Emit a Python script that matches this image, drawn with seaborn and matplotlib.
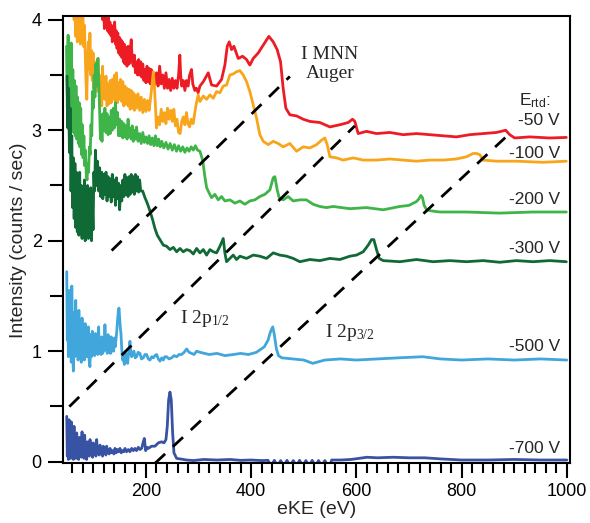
import numpy as np
import pandas as pd
import matplotlib
matplotlib.use("Agg")
import matplotlib.pyplot as plt
from matplotlib.ticker import MultipleLocator
import seaborn as sns

# ---------------------------------------------------------------------------
# Electron kinetic energy spectra of iodine at several retarding voltages
# ---------------------------------------------------------------------------
retard_labels = ["-50 V", "-100 V", "-200 V", "-300 V", "-500 V", "-700 V"]
trace_colors = ["#ed1c24", "#f9a51b", "#3eb449", "#0f6a36", "#41a6dc", "#3953a4"]

ke_50 = [50, 80, 100, 112, 116, 118, 119.5, 121, 122.5, 124, 125.5, 127, 128.5, 130, 131.5,
         133, 134.5, 136, 137.5, 139, 140.5, 142, 143.5, 145, 146.5, 148, 149.5, 151, 152.5,
         154, 155.5, 157, 158.5, 160, 162, 164, 166, 168, 170, 172, 174, 176, 178, 180, 182,
         184, 186, 188, 190, 192, 194, 196, 198, 200, 202, 204, 206, 208, 210, 212, 214,
         217, 220, 223, 226, 229, 232, 235, 238, 241, 244, 247, 250, 253, 256, 259, 262,
         264.4, 266, 268, 271, 274, 277, 280, 283, 286.6, 289, 292.9, 296, 299.2,
         302.6, 309, 318.4, 324.7, 334.2, 343.7, 350, 354.5, 358.3, 362.7, 367.2, 375.4,
         383.6, 391.2, 397.5, 403.9, 413.4, 422.9, 433.6, 441.9, 449.4, 455.8, 460.8, 465.9,
         473.5, 486.2, 498.8, 511.6, 530.6, 549.6, 568.6, 584.4, 592.6, 597, 603.4, 619.2,
         638.2, 663.5, 688.8, 714.2, 739.5, 764.8, 790.1, 815.4, 840.8, 866.1, 883.8,
         891.4, 900.9, 929.4, 967.4, 999]
int_50 = [4.6, 4.5, 4.3, 4.15, 4.06, 4.0, 4.1, 3.92, 4.05, 3.95, 4.08, 3.90, 4.02, 3.88, 3.98,
          3.86, 3.95, 3.80, 3.92, 3.85, 3.98, 3.78, 3.90, 3.74, 3.88, 3.70, 3.84, 3.68, 3.82,
          3.66, 3.80, 3.62, 3.78, 3.60, 3.75, 3.58, 3.76, 3.60, 3.72, 3.82, 3.62, 3.58, 3.68,
          3.52, 3.62, 3.50, 3.64, 3.50, 3.62, 3.48, 3.60, 3.45, 3.55, 3.43, 3.58, 3.44, 3.56,
          3.42, 3.55, 3.40, 3.50, 3.42, 3.52, 3.40, 3.58, 3.42, 3.50, 3.38, 3.52, 3.38,
          3.46, 3.36, 3.47, 3.38, 3.45, 3.38, 3.50, 3.68, 3.50, 3.40, 3.45, 3.36, 3.45,
          3.40, 3.50, 3.55, 3.42, 3.36, 3.38, 3.34,
          3.40, 3.44, 3.52, 3.41, 3.40, 3.46, 3.59, 3.76, 3.80, 3.73, 3.76, 3.65,
          3.67, 3.64, 3.59, 3.65, 3.70, 3.77, 3.85, 3.80, 3.73, 3.62, 3.38, 3.20,
          3.14, 3.13, 3.10, 3.08, 3.07, 3.03, 3.05, 3.07, 3.10, 3.08, 2.97, 2.99,
          2.97, 2.98, 2.96, 2.97, 2.96, 2.95, 2.94, 2.96, 2.97, 2.98, 3.00,
          2.96, 2.93, 2.94, 2.93, 2.935]

ke_100 = [50, 60, 62, 63.5, 65, 66.5, 68, 69.5, 71, 72.5, 74, 75.5, 77, 78.5, 80, 81.5, 83,
          84.5, 86, 87.5, 89, 90.5, 92, 93.5, 95, 96.5, 98, 99.5, 101, 102.5, 104, 105.5,
          107, 108.5, 110, 111.5, 113, 114.5, 116, 117.5, 119, 120.5, 122, 124, 126, 128,
          130, 132, 134, 136, 138, 140, 142, 144, 146, 148, 150, 152, 154, 156, 158, 160,
          162, 164, 166, 168, 170, 172, 174, 176, 178, 180, 182, 185, 188, 191, 194, 197,
          200, 203, 206, 209, 212, 214, 216, 218, 220, 223, 226, 229, 232, 235, 238, 241,
          244, 247, 250, 253, 256, 259, 262, 265, 268, 271, 274, 277, 280, 283, 286, 289.7,
          294.8, 299.2,
          302.6, 309, 315.3, 321.6, 327.9, 334.2, 340.6, 346.9, 353.2, 359.6, 365.9, 372.2,
          378.6, 384.9, 391.2, 397.5, 403.9, 410.2, 416.5, 422.9, 432.4, 441.9, 451.3,
          460.8, 473.5, 486.2, 498.8, 511.6, 524.3, 533.8, 540, 544.5, 549.6, 562.2, 574.9,
          593.9, 612.9, 638.2, 663.5, 688.8, 714.2, 739.5, 764.8, 790.1, 809.1, 821.8,
          828.1, 834.4, 840.8, 866.1, 904, 954.7, 999]
int_100 = [4.5, 4.3, 4.1, 4.0, 4.1, 3.85, 4.08, 3.80, 4.1, 3.95, 4.1, 3.78, 4.05, 3.90, 4.08,
           3.76, 3.95, 3.70, 3.45, 3.28, 3.62, 3.80, 3.55, 3.88, 3.50, 3.72, 3.45, 3.70,
           3.38, 3.62, 3.35, 3.58, 3.40, 3.65, 3.35, 3.50, 3.25, 3.45, 3.22, 3.58, 3.30,
           3.48, 3.28, 3.49, 3.22, 3.42, 3.24, 3.45, 3.25, 3.46, 3.28, 3.50, 3.26, 3.52,
           3.25, 3.43, 3.28, 3.46, 3.26, 3.44, 3.22, 3.40, 3.24, 3.38, 3.22, 3.37, 3.19,
           3.36, 3.20, 3.34, 3.18, 3.32, 3.20, 3.33, 3.18, 3.30, 3.16, 3.28, 3.17, 3.27,
           3.18, 3.30, 3.43, 3.53, 3.40, 3.22, 3.02, 3.12, 3.05, 3.19, 3.08, 3.16, 3.06,
           3.20, 3.10, 3.18, 3.08, 3.19, 3.04, 3.10, 2.98, 2.97, 3.08, 3.12, 3.05, 3.16,
           3.06, 3.03, 3.10, 3.06, 3.22, 3.32,
           3.26, 3.31, 3.28, 3.32, 3.29, 3.35, 3.34, 3.40, 3.41, 3.50, 3.51, 3.53,
           3.54, 3.50, 3.44, 3.35, 3.23, 3.11, 2.96, 2.90, 2.87, 2.90, 2.88,
           2.85, 2.88, 2.81, 2.85, 2.84, 2.87, 2.91, 2.93, 2.87, 2.76, 2.75, 2.73,
           2.75, 2.73, 2.73, 2.74, 2.73, 2.72, 2.73, 2.73, 2.74, 2.76, 2.79,
           2.79, 2.78, 2.73, 2.72, 2.72, 2.71, 2.72]

ke_200 = [49, 50.5, 52, 53.5, 55, 56.5, 58, 59.5, 61, 62.5, 64, 65.5, 67, 68.5, 70, 71.5, 73,
          74.5, 76, 77.5, 79, 80.5, 82, 83.5, 85, 86.5, 88, 89.5, 91, 92.5, 94, 95.5, 97,
          98.5, 100, 101.5, 103, 104.5, 106, 107.5, 109, 110.5, 112, 113.5, 115, 116.5, 118,
          120, 122, 124, 126, 128, 130, 132, 134, 136, 138, 140, 142, 144, 146, 148, 150,
          152, 154, 156, 158, 160, 162, 164, 166, 168, 170, 172, 174, 176, 178, 180, 182,
          185, 188, 191, 194, 197, 200, 203, 206, 209, 212, 215, 218, 221, 224, 227, 230,
          234, 238, 242, 246, 250, 254, 258, 262, 266, 270, 274, 278, 282, 286, 290, 294,
          298, 302.6, 307.7, 312, 315.3, 320.3,
          324.7, 331, 337.4, 343.7, 350, 359.6, 369, 378.6, 388, 397.5, 407, 416.5, 426,
          435.5, 441.9, 445, 449.5, 453.2, 460.8, 470.3, 479.8, 492.5, 505, 517.8, 530.5,
          543, 555.9, 587.6, 619.2, 650.9, 682.5, 700, 714.3, 719, 722.5, 725.6, 728.8,
          733.5, 742.6, 758.5, 809, 872, 935.7, 999]
int_200 = [3.76, 3.20, 3.86, 3.10, 3.70, 3.05, 3.79, 3.00, 3.55, 2.98, 3.45, 2.95, 3.40, 2.92,
           3.30, 2.88, 3.25, 2.85, 3.20, 2.78, 3.05, 2.75, 2.95, 2.68, 2.82, 2.60, 2.55,
           2.70, 2.62, 2.85, 2.78, 3.05, 2.95, 3.35, 3.20, 3.50, 3.30, 3.60, 3.40, 3.62,
           3.65, 3.40, 3.15, 2.92, 3.05, 2.90, 3.15, 3.00, 3.20, 2.98, 3.15, 2.96, 3.12,
           2.97, 3.18, 3.00, 3.20, 3.02, 3.25, 3.05, 3.16, 2.95, 3.10, 2.95, 3.08, 2.93,
           3.06, 2.94, 3.04, 2.92, 3.10, 2.94, 3.02, 2.92, 3.04, 2.90, 3.00, 2.92, 3.03,
           2.90, 2.97, 2.88, 2.98, 2.89, 2.94, 2.88, 2.95, 2.87, 2.93, 2.86, 2.95, 2.86,
           2.92, 2.85, 2.90, 2.84, 2.89, 2.83, 2.88, 2.82, 2.87, 2.81, 2.86, 2.81, 2.85,
           2.80, 2.84, 2.81, 2.85, 2.82, 2.86, 2.82, 2.81, 2.73, 2.58, 2.48, 2.43,
           2.39, 2.42, 2.37, 2.40, 2.36, 2.37, 2.34, 2.36, 2.33, 2.36, 2.37, 2.40, 2.42,
           2.46, 2.57, 2.58, 2.46, 2.39, 2.37, 2.40, 2.36, 2.37, 2.37, 2.33, 2.31,
           2.30, 2.31, 2.29, 2.30, 2.28, 2.31, 2.32, 2.355, 2.38, 2.41, 2.39, 2.32,
           2.28, 2.27, 2.26, 2.26, 2.25, 2.26, 2.26]

ke_300 = [50, 51.5, 53, 54.5, 56, 57.5, 59, 60.5, 62, 63.5, 65, 66.5, 68, 69.5, 71, 72.5, 74,
          75.5, 77, 78.5, 80, 81.5, 83, 84.5, 86, 87.5, 89, 90.5, 92, 93.5, 95, 96.5, 98,
          99.5, 101, 102.5, 104, 106, 108, 110, 112, 114, 116, 118, 120, 122, 124, 126, 128,
          130, 132, 134, 136, 138, 140, 142, 144, 146, 148, 150, 152, 154, 156, 158, 160,
          162, 164, 166, 168, 170, 172, 174, 176, 178, 180, 182, 184, 186, 188, 190,
          193.7, 198.1, 202.5, 207.6, 212.7, 217.1, 221.5, 226.6,
          233, 239.3, 245.6, 252, 258.3, 264.6, 271, 277.3, 283.6, 290, 296.3, 302.6, 309,
          315.3, 321.6, 327.9, 334.2, 340.6, 346.9, 350, 353.2, 359.6, 365.9, 372.2, 378.6,
          391.2, 403.9, 416.5, 429.2, 441.9, 454.5, 467.2, 479.8, 492.5, 511.6, 530.6,
          549.6, 568.6, 587.6, 600.2, 612.9, 622.4, 628.7, 633.1, 638.2, 643.3, 650.9,
          682.5, 714.2, 745.8, 777.5, 809.1, 840.8, 872.4, 904, 935.7, 967.4, 999]
int_300 = [3.49, 3.02, 3.38, 2.80, 3.20, 2.45, 2.95, 2.30, 2.75, 2.20, 2.70, 2.12, 2.62, 2.08,
           2.55, 2.05, 2.62, 2.15, 2.50, 2.02, 2.48, 2.12, 2.55, 2.00, 2.45, 2.10, 2.50,
           2.02, 2.42, 2.08, 2.48, 2.00, 2.35, 2.10, 2.62, 2.45, 2.82, 2.50, 2.72, 2.45,
           2.66, 2.40, 2.62, 2.38, 2.60, 2.42, 2.62, 2.36, 2.58, 2.40, 2.56, 2.35, 2.60,
           2.40, 2.55, 2.32, 2.57, 2.38, 2.52, 2.28, 2.50, 2.36, 2.55, 2.40, 2.60, 2.42,
           2.57, 2.40, 2.58, 2.42, 2.60, 2.44, 2.58, 2.42, 2.60, 2.45, 2.58, 2.44, 2.55,
           2.45, 2.45, 2.39, 2.34, 2.27, 2.19, 2.11, 2.05, 2.01,
           1.96, 1.95, 1.92, 1.94, 1.90, 1.93, 1.90, 1.92, 1.91, 1.88, 1.93, 1.89, 1.92,
           1.87, 1.92, 1.90, 1.89, 1.95, 2.02, 1.89, 1.81, 1.84, 1.87, 1.83, 1.86,
           1.84, 1.87, 1.86, 1.84, 1.89, 1.87, 1.86, 1.84, 1.81, 1.83, 1.82,
           1.84, 1.83, 1.86, 1.87, 1.90, 1.96, 2.01, 2.01, 1.92, 1.84, 1.82,
           1.81, 1.83, 1.81, 1.82, 1.81, 1.82, 1.805, 1.82, 1.81, 1.82, 1.81]

ke_500 = [49.4, 50.5, 51.5, 52.5, 54, 55.5, 57, 58, 59, 60.5, 62, 63.5, 65, 66.5, 68, 69.5,
          71, 72.5, 74, 75.5, 77, 78.5, 80, 81.5, 83, 84.5, 86, 87.5, 89, 90.5, 92, 93.5,
          95, 96.5, 98, 99.5, 101, 102.5, 104, 105.5, 107, 108.5, 110, 111.5, 113, 114.5,
          116, 117.5, 119, 120.5, 122, 123.5, 125, 126.5, 128, 129.5, 131, 132.5, 134,
          135.5, 137, 138.5, 140, 141.5, 143, 144.5, 146, 147.5, 148.7, 150, 151.5, 152.5,
          154, 155.7, 157, 158.9, 160.5, 162, 163.5, 165.2, 167, 169.6, 171, 172.8, 175,
          177.2, 179.5, 182.3, 185, 188.6, 191.5, 195, 198, 201.3, 204.5, 207.6, 211, 214,
          217, 220.3, 223.5, 226.6, 230, 233, 236, 239.3, 244, 248.8, 253.5, 258.3, 263,
          267.8, 272.5, 277.3, 282, 286.7, 291.5, 296.2,
          303, 320, 335, 350, 366, 380, 395, 410, 425, 432, 437, 441, 444, 448, 452, 458,
          480, 500, 517, 540, 570, 600, 640, 680, 726, 760, 800, 850, 900, 950, 1000]
int_500 = [1.72, 1.10, 1.45, 0.95, 1.55, 1.00, 1.40, 0.90, 1.59, 1.05, 0.82, 1.35, 0.95, 1.46,
           0.98, 1.30, 0.92, 1.37, 0.95, 1.28, 0.90, 1.30, 0.98, 1.22, 0.92, 1.25, 0.95,
           1.18, 0.95, 1.22, 0.92, 0.86, 1.15, 0.95, 1.18, 0.98, 1.12, 0.96, 1.16, 0.98,
           1.10, 0.97, 1.22, 1.00, 1.08, 0.97, 1.13, 0.98, 1.05, 1.00, 1.24, 1.02, 1.10,
           0.98, 1.15, 1.00, 1.08, 0.98, 1.13, 1.00, 1.08, 1.00, 1.12, 1.04, 1.10, 1.18,
           1.28, 1.36, 1.39, 1.30, 1.20, 1.16, 1.02, 0.92, 0.96, 0.88, 0.95, 0.98, 0.92,
           0.89, 0.98, 1.09, 1.00, 0.95, 0.99, 1.00, 0.94, 0.95, 0.99, 0.98, 0.93, 0.94,
           0.97, 0.97, 0.93, 0.92, 0.95, 0.94, 0.96, 0.97, 0.93, 0.91, 0.94, 0.92, 0.95,
           0.95, 0.93, 0.94, 0.96, 0.95, 0.97, 0.97, 0.99, 1.02, 0.99, 0.98, 0.97, 1.00,
           0.99, 0.97, 0.98, 0.96, 0.97, 0.98, 0.97, 0.99, 1.04, 1.10, 1.18, 1.22, 1.15,
           1.02, 0.96, 0.94, 0.93, 0.92, 0.89, 0.92, 0.93, 0.92, 0.93, 0.94, 0.95, 0.93,
           0.92, 0.93, 0.92, 0.93, 0.92]

ke_700 = [49.4, 50.5, 51.5, 52.5, 53.8, 55, 56, 57, 58.2, 59.5, 60.8, 62, 63.3, 64.5, 65.8,
          67, 68.4, 69.5, 70.9, 72, 73.4, 74.7, 76, 77.3, 78.5, 79.8, 81, 82.3, 83.5, 84.8,
          86.1, 87.3, 88.6, 90, 91.1, 92.5, 93.7, 95, 96.8, 98.5, 100, 101.5, 103.2, 104.8,
          106.3, 108, 109.5, 111, 112.7, 114.3, 115.8, 117.5, 119, 120.6, 122.2, 123.8,
          125.3, 127, 128.5, 130, 131.7, 134, 136.7, 139, 141.1, 143.5, 145.6, 148, 150.6,
          153, 155.7, 158, 160.1, 163, 166.5, 169.5, 172.8, 176, 179.1, 182, 185.5, 188.5,
          191.8, 195, 196.9, 198.2, 199.4, 202, 204.4, 210.8, 217.1, 223.4,
          229.8, 234.2, 238, 240.5, 243.1, 245.6, 248.1, 250.7, 253.2, 258.3, 264.6,
          277.3, 290, 310, 335, 360, 380, 400, 420, 432, 438, 444, 450, 456, 462, 468,
          474, 480, 486, 492, 498, 504, 510, 516, 522, 528, 534, 540, 548, 553, 570, 590,
          605, 620, 640, 670, 700, 730, 760, 800, 850, 900, 950, 1000]
int_700 = [0.41, 0.05, 0.30, 0.02, 0.38, 0.08, 0.33, 0.03, 0.36, 0.06, 0.25, 0.02, 0.32, 0.05,
           0.22, 0.03, 0.26, 0.06, 0.20, 0.02, 0.22, 0.05, 0.18, 0.04, 0.27, 0.07, 0.20,
           0.03, 0.24, 0.06, 0.16, 0.02, 0.18, 0.06, 0.14, 0.05, 0.20, 0.07, 0.16, 0.04,
           0.17, 0.08, 0.13, 0.05, 0.20, 0.08, 0.12, 0.06, 0.15, 0.07, 0.12, 0.05, 0.14,
           0.08, 0.12, 0.06, 0.14, 0.09, 0.11, 0.07, 0.12, 0.08, 0.10, 0.07, 0.12, 0.08,
           0.11, 0.09, 0.12, 0.08, 0.10, 0.09, 0.12, 0.09, 0.11, 0.09, 0.12, 0.10, 0.12,
           0.10, 0.13, 0.11, 0.12, 0.18, 0.21, 0.15, 0.10, 0.13, 0.12, 0.14, 0.14, 0.17,
           0.18, 0.17, 0.20, 0.32, 0.56, 0.63, 0.56, 0.26, 0.08, 0.03, 0.025,
           0.015, 0.01, 0.02, 0.015, 0.02, 0.012, 0.015, 0.01, 0.012, -0.04, 0.012, -0.04,
           0.01, -0.04, 0.012, -0.04, 0.01, -0.04, 0.012, -0.04, 0.01, -0.04, 0.012,
           -0.04, 0.01, -0.04, 0.01, -0.06, 0.015, 0.015, 0.02, 0.03, 0.04, 0.035, 0.04,
           0.035, 0.035, 0.025, 0.015, 0.015, 0.02, 0.015, 0.015]

spectra = pd.concat([
    pd.DataFrame({"eKE": ke, "intensity": inten, "E_rtd": lab})
    for ke, inten, lab in [
        (ke_50, int_50, "-50 V"), (ke_100, int_100, "-100 V"),
        (ke_200, int_200, "-200 V"), (ke_300, int_300, "-300 V"),
        (ke_500, int_500, "-500 V"), (ke_700, int_700, "-700 V"),
    ]
], ignore_index=True)

# Dashed guides following each feature as the retarding voltage changes
guide_auger_ke = [134.8, 473.6]
guide_auger_int = [1.911, 3.487]
guide_2p12_ke = [54.3, 597.1]
guide_2p12_int = [0.498, 3.04]
guide_2p32_ke = [217.1, 885.3]
guide_2p32_int = [-0.015, 2.944]

# Label heights for the retarding-voltage annotations
label_int = [3.09, 2.79, 2.37, 1.93, 1.04, 0.115]

# ---------------------------------------------------------------------------
sns.set_theme(style="ticks")
plt.rcParams["font.family"] = ["Liberation Sans", "DejaVu Sans"]
plt.rcParams["axes.linewidth"] = 1.5

fig = plt.figure(figsize=(5.9, 5.23), dpi=100)
ax = fig.add_axes([0.1073, 0.1141, 0.8588, 0.8544])

sns.lineplot(data=spectra, x="eKE", y="intensity", hue="E_rtd",
             hue_order=retard_labels, palette=dict(zip(retard_labels, trace_colors)),
             estimator=None, sort=False, legend=False, lw=2.0, ax=ax,
             solid_joinstyle="round", solid_capstyle="round")

for gx, gy in [(guide_auger_ke, guide_auger_int),
               (guide_2p12_ke, guide_2p12_int),
               (guide_2p32_ke, guide_2p32_int)]:
    ax.plot(gx, gy, color="black", lw=2.0, dashes=(5, 3.8))

ax.set_xlim(42.9, 1006)
ax.set_ylim(-0.015, 4.03)

ax.xaxis.set_major_locator(MultipleLocator(200))
ax.xaxis.set_minor_locator(MultipleLocator(20))
ax.yaxis.set_major_locator(MultipleLocator(1))
ax.yaxis.set_minor_locator(MultipleLocator(0.5))
ax.tick_params(axis="x", which="major", length=11, width=1.5, labelsize=13, pad=3)
ax.tick_params(axis="x", which="minor", length=7, width=1.5)
ax.tick_params(axis="y", which="major", length=10.5, width=1.5, labelsize=13, pad=5)
ax.tick_params(axis="y", which="minor", length=9.5, width=1.5)
ax.tick_params(which="both", direction="out", top=False, right=False, color="black",
               labelcolor="black")
for side in ["left", "right", "top", "bottom"]:
    ax.spines[side].set_visible(True)
    ax.spines[side].set_color("black")

ax.set_xlabel("eKE (eV)", fontsize=14, labelpad=1)
ax.set_ylabel("Intensity (counts / sec)", fontsize=14, labelpad=3)

# Retarding-voltage labels at the right edge
for lab, yv in zip(retard_labels, label_int):
    ax.text(987, yv, lab, ha="right", va="center", fontsize=12.5)
ax.text(909, 3.23, r"E$\mathregular{_{rtd}}$:", ha="left", va="baseline", fontsize=12.5)

# Peak assignments
serif = ["Liberation Serif", "DejaVu Serif"]
ax.text(549.6, 3.60, "I MNN\nAuger", ha="center", va="center", fontsize=14,
        family=serif, linespacing=1.2, multialignment="center")
ax.text(264.6, 1.254, r"I 2p$\mathregular{_{1/2}}$", ha="left", va="baseline",
        fontsize=14, family=serif)
ax.text(540, 1.127, r"I 2p$\mathregular{_{3/2}}$", ha="left", va="baseline",
        fontsize=14, family=serif)

fig.savefig("out.png", dpi=100)
